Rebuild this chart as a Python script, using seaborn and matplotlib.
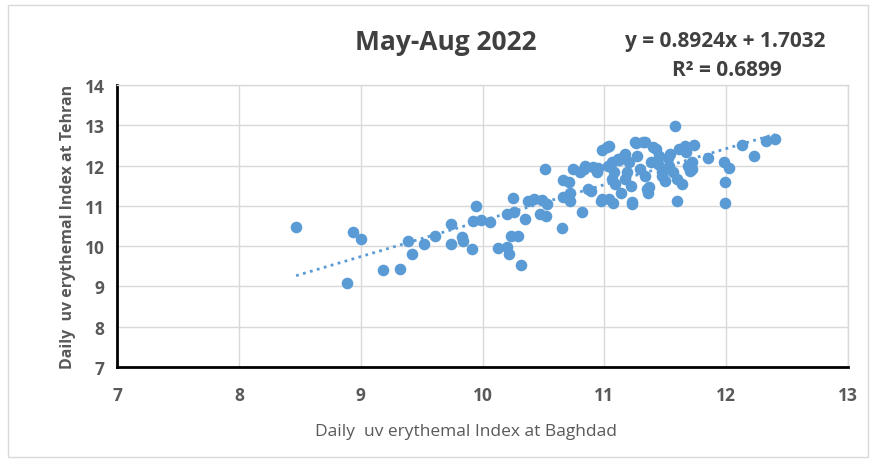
import numpy as np
import pandas as pd
import seaborn as sns
import matplotlib.pyplot as plt
from matplotlib.patches import Rectangle

# Daily uv erythemal index, May-Aug 2022
baghdad = [8.47, 8.89, 8.94, 9.00, 9.18, 9.32, 9.39, 9.42, 9.52, 9.61,
           9.74, 9.74, 9.83, 9.84, 9.91, 9.92, 9.95, 9.99, 10.06, 10.13,
           10.20, 10.20, 10.22, 10.23, 10.25, 10.26, 10.29, 10.32, 10.35, 10.37,
           10.42, 10.47, 10.49, 10.51, 10.52, 10.53, 10.65, 10.66, 10.66, 10.71,
           10.72, 10.72, 10.74, 10.80, 10.82, 10.84, 10.89, 10.94, 10.95, 10.97,
           10.98, 11.04, 11.03, 11.04, 11.07, 11.08, 11.09, 11.11, 11.14, 11.17,
           11.17, 11.20, 11.22, 11.23, 11.26, 11.27, 11.29, 11.33, 11.33, 11.36,
           11.37, 11.38, 11.40, 11.45, 11.47, 11.50, 11.54, 11.53, 11.56, 11.58,
           11.60, 11.60, 11.61, 11.64, 11.66, 11.67, 11.69, 11.70, 11.72, 11.74,
           11.72, 11.85, 11.98, 11.99, 11.99, 12.02, 12.13, 12.23, 12.33, 12.40,
           11.02, 11.25, 11.32, 11.42, 10.91, 11.06, 11.16, 10.83, 10.87, 11.06,
           11.35, 11.47, 11.23, 10.98, 11.12, 11.19, 11.44, 11.52]
tehran = [10.48, 9.09, 10.34, 10.17, 9.41, 9.44, 10.13, 9.80, 10.06, 10.25,
          10.56, 10.06, 10.22, 10.12, 9.92, 10.63, 11.00, 10.64, 10.60, 9.96,
          9.97, 10.80, 9.81, 10.24, 11.19, 10.84, 10.24, 9.53, 10.67, 11.12,
          11.18, 10.81, 11.14, 11.91, 10.74, 11.04, 10.45, 11.63, 11.23, 11.60,
          11.32, 11.12, 11.91, 11.83, 10.84, 11.98, 11.36, 11.83, 11.95, 11.12,
          12.39, 12.49, 12.00, 11.17, 11.07, 11.83, 11.54, 12.16, 11.33, 12.28,
          11.66, 12.08, 11.50, 11.04, 12.56, 12.24, 11.91, 12.59, 11.75, 11.33,
          11.46, 12.08, 12.45, 12.24, 11.83, 11.62, 12.28, 12.00, 11.83, 12.99,
          11.66, 11.12, 12.41, 11.54, 12.49, 12.33, 12.00, 11.87, 12.08, 12.52,
          11.91, 12.19, 12.08, 11.60, 11.07, 11.95, 12.51, 12.23, 12.60, 12.66,
          12.45, 12.58, 12.58, 12.41, 11.96, 12.08, 12.25, 11.92, 11.42, 11.67,
          11.42, 11.75, 11.09, 11.17, 12.15, 11.85, 12.05, 12.20]

title = "May-Aug 2022"
equation = "y = 0.8924x + 1.7032"
r_squared = "R² = 0.6899"
x_ticks = [7, 8, 9, 10, 11, 12, 13]
y_ticks = [7, 8, 9, 10, 11, 12, 13, 14]

df = pd.DataFrame({"baghdad": baghdad, "tehran": tehran})

sns.set_style("white")
plt.rcParams['font.family'] = ['Open Sans', 'DejaVu Sans']

blue = "#5B9BD5"
gray = "#595959"
dark = "#404040"

fig = plt.figure(figsize=(8.74, 4.64), dpi=100)
fig.patches.append(Rectangle((8 / 874, 6 / 464), 860 / 874, 452 / 464,
                             transform=fig.transFigure, fill=False,
                             edgecolor="#d9d9d9", linewidth=1))
ax = fig.add_axes([117 / 874, 96 / 464, 731 / 874, 282 / 464])

sns.regplot(data=df, x="baghdad", y="tehran", ax=ax, ci=None, truncate=True,
            color=blue,
            scatter_kws={"s": 70, "alpha": 1, "linewidths": 0},
            line_kws={"linestyle": (0, (1, 1.6)), "linewidth": 2})

ax.set_xlim(7, 13)
ax.set_ylim(7, 14)
ax.set_xticks(x_ticks)
ax.set_yticks(y_ticks)
ax.grid(True, color="#d9d9d9", linewidth=1)
ax.set_axisbelow(True)

for side in ["top", "right"]:
    ax.spines[side].set_color("#d9d9d9")
    ax.spines[side].set_linewidth(1)
for side in ["left", "bottom"]:
    ax.spines[side].set_color("black")
    ax.spines[side].set_linewidth(2)

ax.tick_params(axis="x", direction="out", length=6, width=2, color="black",
               labelsize=12.5, labelcolor=gray, pad=8)
ax.tick_params(axis="y", direction="out", length=4, width=2, color="black",
               labelsize=12.5, labelcolor=gray, pad=5)
for lbl in ax.get_xticklabels() + ax.get_yticklabels():
    lbl.set_fontweight("bold")

ax.set_xlabel("Daily  uv erythemal Index at Baghdad", fontsize=12.5, color=gray)
ax.xaxis.set_label_coords(0.478, -0.2)
ax.set_ylabel("Daily  uv erythemal Index at Tehran", fontsize=11.5, color=gray,
              fontweight="bold", labelpad=6)

fig.text(446 / 874, 1 - 42 / 464, title, ha="center", va="center",
         fontsize=19, fontweight="bold", color=dark)
fig.text(725 / 874, 1 - 42 / 464, equation, ha="center", va="center",
         fontsize=15, fontweight="bold", color=dark)
fig.text(727 / 874, 1 - 70 / 464, r_squared, ha="center", va="center",
         fontsize=15, fontweight="bold", color=dark)

plt.savefig("out.png", dpi=100)
